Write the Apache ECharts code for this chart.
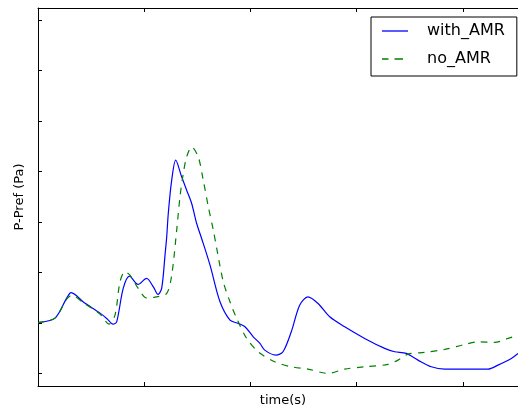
<!DOCTYPE html>
<html>
<head>
<meta charset="utf-8">
<script src="https://cdn.jsdelivr.net/npm/echarts@6/dist/echarts.min.js"></script>
<style>html,body{margin:0;padding:0;background:#fff}#c{width:518px;height:414px}</style>
</head>
<body>
<div id="c"></div>
<script>
const seriesNames = ['with_AMR', 'no_AMR'];
const xTicks = [1, 2, 3, 4];
const yTicks = [0, 1, 2, 3, 4, 5, 6, 7];
const withAMR = [
  [0.000,1.006],[0.160,1.095],[0.270,1.491],[0.311,1.600],[0.364,1.537],[0.424,1.418],
  [0.584,1.194],[0.647,1.089],[0.706,0.976],[0.741,1.022],[0.803,1.689],[0.862,1.927],
  [0.942,1.762],[1.022,1.881],[1.086,1.715],[1.130,1.564],[1.165,1.689],[1.196,2.343],
  [1.212,2.705],[1.227,3.174],[1.259,3.828],[1.297,4.224],[1.353,3.893],[1.400,3.630],
  [1.447,3.366],[1.494,2.970],[1.541,2.673],[1.620,2.145],[1.714,1.418],[1.808,1.055],
  [1.886,0.990],[1.949,0.923],[2.027,0.725],[2.090,0.594],[2.135,0.461],[2.241,0.362],
  [2.307,0.428],[2.385,0.824],[2.464,1.352],[2.542,1.517],[2.637,1.386],[2.747,1.121],
  [2.888,0.923],[3.076,0.693],[3.265,0.495],[3.359,0.428],[3.468,0.396],[3.578,0.263],
  [3.703,0.131],[3.830,0.085],[4.018,0.085],[4.237,0.085],[4.331,0.164],[4.457,0.297],
  [4.520,0.396]
];
const noAMR = [
  [0.000,1.006],[0.160,1.095],[0.270,1.471],[0.320,1.550],[0.424,1.402],[0.584,1.174],
  [0.669,0.976],[0.725,1.154],[0.772,1.814],[0.819,2.016],[0.866,1.947],[0.944,1.683],
  [1.026,1.491],[1.118,1.517],[1.212,1.584],[1.259,1.947],[1.306,2.838],[1.337,3.497],
  [1.368,3.960],[1.400,4.289],[1.447,4.487],[1.509,4.289],[1.556,3.828],[1.604,3.299],
  [1.651,2.838],[1.683,2.475],[1.745,1.814],[1.808,1.418],[1.871,1.089],[1.965,0.693],
  [2.074,0.428],[2.229,0.230],[2.385,0.131],[2.542,0.085],[2.731,0.000],[2.888,0.085],
  [3.076,0.131],[3.296,0.178],[3.390,0.263],[3.484,0.382],[3.641,0.416],[3.830,0.475],
  [4.018,0.574],[4.143,0.626],[4.300,0.614],[4.426,0.693],[4.520,0.758]
];

const FONT = 'DejaVu Sans';
const chart = echarts.init(document.getElementById('c'), null, {renderer: 'canvas'});
const tickCommon = {show: true, inside: true, length: 4, lineStyle: {color: '#000', width: 1}};
const solidIcon = 'path://M0,0h26v1h-26z';
const dashIcon = 'path://M0,0h6.5v1h-6.5z M12.5,0h8.5v1h-8.5z M25.95,0h0.05v1h-0.05z';
chart.setOption({
  animation: false,
  backgroundColor: '#fff',
  textStyle: {fontFamily: FONT},
  grid: {left: 38, top: 8, bottom: 28, right: 0, containLabel: false},
  legend: {
    orient: 'vertical', left: 371, top: 17,
    data: [{name: seriesNames[0], icon: solidIcon}, {name: seriesNames[1], icon: dashIcon}],
    symbolKeepAspect: false,
    backgroundColor: '#fff',
    borderColor: '#000', borderWidth: 1, borderRadius: 0,
    padding: [4, 12, 7, 11],
    itemWidth: 26, itemHeight: 1.3, itemGap: 8,
    itemStyle: {borderWidth: 0},
    lineStyle: {width: 0},
    textStyle: {fontFamily: FONT, fontSize: 16, color: '#000', lineHeight: 20, padding: [0, 0, 0, 14]}
  },
  xAxis: [{
    type: 'value', min: 0, max: 4.52, position: 'bottom',
    name: 'time(s)', nameLocation: 'middle', nameGap: 8,
    nameTextStyle: {fontFamily: FONT, fontSize: 13, color: '#000', verticalAlign: 'top', padding: [0, 0, 0, 10]},
    axisLine: {show: true, onZero: false, lineStyle: {color: '#000', width: 1}},
    axisTick: Object.assign({customValues: xTicks}, tickCommon),
    axisLabel: {show: false},
    splitLine: {show: false}
  }, {
    type: 'value', min: 0, max: 4.52, position: 'top',
    axisLine: {show: true, onZero: false, lineStyle: {color: '#000', width: 1}},
    axisTick: Object.assign({customValues: xTicks}, tickCommon),
    axisLabel: {show: false},
    splitLine: {show: false}
  }],
  yAxis: {
    type: 'value', min: -0.25, max: 7.24,
    name: 'P-Pref (Pa)', nameLocation: 'middle', nameGap: 12,
    nameTextStyle: {fontFamily: FONT, fontSize: 13, color: '#000'},
    axisLine: {show: true, onZero: false, lineStyle: {color: '#000', width: 1}},
    axisTick: Object.assign({customValues: yTicks}, tickCommon),
    axisLabel: {show: false},
    splitLine: {show: false}
  },
  series: [{
    name: seriesNames[0], type: 'line', data: withAMR,
    smooth: 0.3, showSymbol: false, symbol: 'none',
    lineStyle: {color: '#0000ff', width: 1.2},
    itemStyle: {color: '#0000ff'}
  }, {
    name: seriesNames[1], type: 'line', data: noAMR,
    smooth: 0.3, showSymbol: false, symbol: 'none',
    lineStyle: {color: '#008000', width: 1.2, type: [6.5, 6.3]},
    itemStyle: {color: '#008000'}
  }]
});
</script>
</body>
</html>
